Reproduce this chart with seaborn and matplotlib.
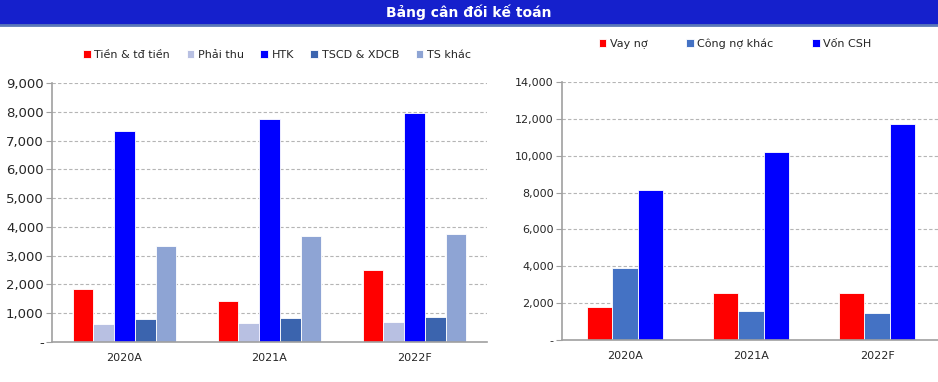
import numpy as np
import pandas as pd
import matplotlib
matplotlib.use("Agg")
import matplotlib.pyplot as plt
import seaborn as sns

# data
years = ["2020A", "2021A", "2022F"]

asset_names = ["Tiền & tđ tiền", "Phải thu", "HTK", "TSCD & XDCB", "TS khác"]
tien = [1840, 1430, 2490]
phai_thu = [625, 670, 695]
htk = [7330, 7740, 7960]
tscd = [800, 845, 870]
ts_khac = [3330, 3680, 3750]
asset_colors = ["#FF0000", "#B8C0E2", "#0000FF", "#3B64AE", "#8EA4D4"]

src_names = ["Vay nợ", "Công nợ khác", "Vốn CSH"]
vay_no = [1810, 2530, 2530]
cong_no = [3900, 1575, 1450]
von_csh = [8140, 10200, 11720]
src_colors = ["#FF0000", "#4472C4", "#0000FF"]

left_df = pd.DataFrame({
    "year": years * 5,
    "item": np.repeat(asset_names, 3),
    "value": tien + phai_thu + htk + tscd + ts_khac,
})
right_df = pd.DataFrame({
    "year": years * 3,
    "item": np.repeat(src_names, 3),
    "value": vay_no + cong_no + von_csh,
})

sns.set_style("white")
plt.rcParams["font.family"] = ["DejaVu Sans"]

fig = plt.figure(figsize=(9.38, 3.82), dpi=100)

# title bar
bar_ax = fig.add_axes([0, 1 - 25 / 382, 1, 25 / 382])
bar_ax.set_facecolor("#1520CC")
bar_ax.set_xticks([])
bar_ax.set_yticks([])
for s in ["top", "left", "right"]:
    bar_ax.spines[s].set_visible(False)
bar_ax.spines["bottom"].set_color("#5A78B8")
bar_ax.spines["bottom"].set_linewidth(2)
bar_ax.text(0.5, 0.5, "Bảng cân đối kế toán", color="white", fontsize=10,
            fontweight="bold", ha="center", va="center", transform=bar_ax.transAxes)

ax1 = fig.add_axes([52 / 938, 1 - 342 / 382, 435 / 938, 259 / 382])
ax2 = fig.add_axes([562 / 938, 1 - 340 / 382, 378 / 938, 258 / 382])


def fmt(v, pos=None):
    return "-" if v == 0 else f"{int(v):,}"


def style_axis(ax, df, names, colors, ymax, step, width, legend_xy, ncol, colspace, ysize):
    sns.barplot(data=df, x="year", y="value", hue="item", hue_order=names,
                palette=colors, width=width, ax=ax, edgecolor="white",
                linewidth=0.6, saturation=1, errorbar=None)
    ax.set_xlim(-0.5, 2.5)
    ax.set_ylim(0, ymax)
    ax.set_yticks(np.arange(0, ymax + 1, step))
    ax.yaxis.set_major_formatter(plt.FuncFormatter(fmt))
    ax.set_xlabel("")
    ax.set_ylabel("")
    ax.set_axisbelow(True)
    ax.yaxis.grid(True, color="#B5B5B5", linestyle=(0, (3, 2)), linewidth=0.8)
    for s in ["top", "right"]:
        ax.spines[s].set_visible(False)
    for s in ["left", "bottom"]:
        ax.spines[s].set_color("#A0A0A0")
        ax.spines[s].set_linewidth(1.2)
    ax.set_xticks([0, 1, 2])
    ax.set_xticklabels(years)
    ax.set_xticks([-0.5, 0.5, 1.5, 2.5], minor=True)
    ax.tick_params(axis="x", which="major", length=0, labelsize=8, pad=8)
    ax.tick_params(axis="x", which="minor", length=4, color="#A0A0A0", direction="out")
    ax.tick_params(axis="y", length=4, color="#A0A0A0", direction="out",
                   labelsize=ysize, left=True, pad=2)
    handles, labels = ax.get_legend_handles_labels()
    ax.legend(handles, labels, loc="center", bbox_to_anchor=legend_xy,
              ncol=ncol, frameon=False, fontsize=8, handlelength=0.7,
              handleheight=0.7, handletextpad=0.3, columnspacing=colspace)


style_axis(ax1, left_df, asset_names, asset_colors, 9000, 1000, 0.714,
           (0.517, 1.11), 5, 1.5, 9.5)
style_axis(ax2, right_df, src_names, src_colors, 14000, 2000, 0.6,
           (0.458, 1.15), 3, 3.5, 8)

fig.savefig("out.png", dpi=100)
